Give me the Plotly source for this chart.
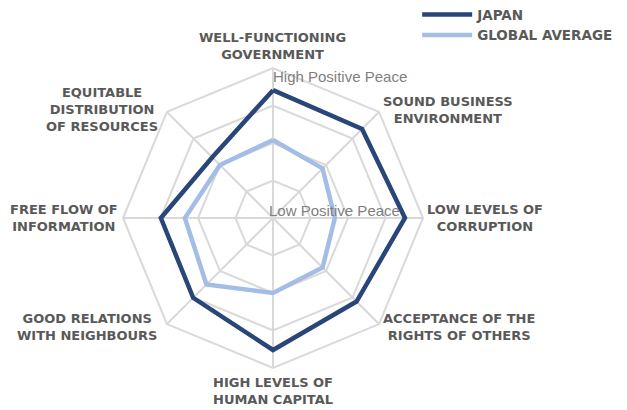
import math
import plotly.graph_objects as go

# pillars of Positive Peace, clockwise from top
pillars = ["WELL-FUNCTIONING<br>GOVERNMENT", "SOUND BUSINESS<br>ENVIRONMENT",
           "LOW LEVELS OF<br>CORRUPTION", "ACCEPTANCE OF THE<br>RIGHTS OF OTHERS",
           "HIGH LEVELS OF<br>HUMAN CAPITAL", "GOOD RELATIONS<br>WITH NEIGHBOURS",
           "FREE FLOW OF<br>INFORMATION", "EQUITABLE<br>DISTRIBUTION<br>OF RESOURCES"]

# PPI scores (1 = high positive peace, 5 = low)
japan = [1.59, 1.64, 1.48, 1.85, 1.48, 1.99, 2.01, 2.71]
global_avg = [2.92, 3.13, 3.35, 3.13, 3.00, 2.49, 2.65, 3.00]

tick_vals = [5, 4, 3, 2, 1]
tick_text = ["Low Positive Peace", "", "", "", "High Positive Peace"]

LABEL_FONT = "DejaVu Sans"

fig = go.Figure()
fig.add_trace(go.Scatterpolar(r=japan + japan[:1], theta=pillars + pillars[:1], mode="lines",
                              name="JAPAN", legendgroup="a", line=dict(color="#284677", width=4.5)))
fig.add_trace(go.Scatterpolar(r=global_avg + global_avg[:1], theta=pillars + pillars[:1], mode="lines",
                              name="GLOBAL AVERAGE", legendgroup="b", line=dict(color="#a3bde6", width=4.5)))

# page body has an 8px margin, so the figure is 8px smaller than the window
W, H = 619, 402
dom_x = [0.1858, 0.6704]
dom_y = [0.1045, 0.8507]
cx = (dom_x[0] + dom_x[1]) / 2
cy = (dom_y[0] + dom_y[1]) / 2
ry = (dom_y[1] - dom_y[0]) / 2
R = ry * H  # outer radius in px

# radial labels drawn horizontally next to the vertical axis
for v, t in zip(tick_vals, tick_text):
    if not t:
        continue
    frac = (5 - v) / 4
    fig.add_annotation(x=cx, y=cy + ry * frac, xref="paper", yref="paper",
                       text=t, showarrow=False, xanchor="left", yanchor="middle",
                       xshift=-2 if v == 1 else -6, yshift=-8 if v == 1 else 8,
                       font=dict(size=15, family="Liberation Sans", color="#7f7f7f"))

# pillar labels just outside the outer octagon
for i, name in enumerate(pillars):
    ang = math.radians(90 - 45 * i)
    c, s = math.cos(ang), math.sin(ang)
    if abs(c) < 0.1:
        xa, ya, xs, ys = "center", ("bottom" if s > 0 else "top"), 0, (4 if s > 0 else -5)
    else:
        xa, ya = ("left" if c > 0 else "right"), "middle"
        xs = 2 if c > 0 else (-7 if abs(s) > 0.1 else -3)
        ys = 0 if abs(s) < 0.1 else (2 if s > 0 else -3)
    fig.add_annotation(x=cx + R * c / W, y=cy + R * s / H, xref="paper", yref="paper",
                       text=name, showarrow=False, xanchor=xa, yanchor=ya, align="center",
                       xshift=xs, yshift=ys,
                       font=dict(size=13, family=LABEL_FONT, color="#595959", weight="bold"))

fig.update_layout(
    width=W, height=H,
    margin=dict(l=0, r=0, t=0, b=0, autoexpand=False),
    paper_bgcolor="white",
    font=dict(family=LABEL_FONT, color="#595959"),
    polar=dict(
        domain=dict(x=dom_x, y=dom_y),
        bgcolor="white",
        gridshape="linear",
        angularaxis=dict(direction="clockwise", rotation=90, showline=True,
                         linecolor="#d9d9d9", linewidth=2, gridcolor="#d9d9d9", gridwidth=2,
                         showticklabels=False, ticks=""),
        radialaxis=dict(range=[5, 1], tickvals=tick_vals, angle=90, showticklabels=False,
                        showline=False, gridcolor="#d9d9d9", gridwidth=2, ticks=""),
    ),
    legend=dict(x=0.661, y=1.022, xanchor="left", yanchor="top",
                font=dict(size=13.5, family=LABEL_FONT, color="#595959", weight="bold"),
                traceorder="grouped", tracegroupgap=0, itemwidth=50),
)
fig.write_html("out.html")
